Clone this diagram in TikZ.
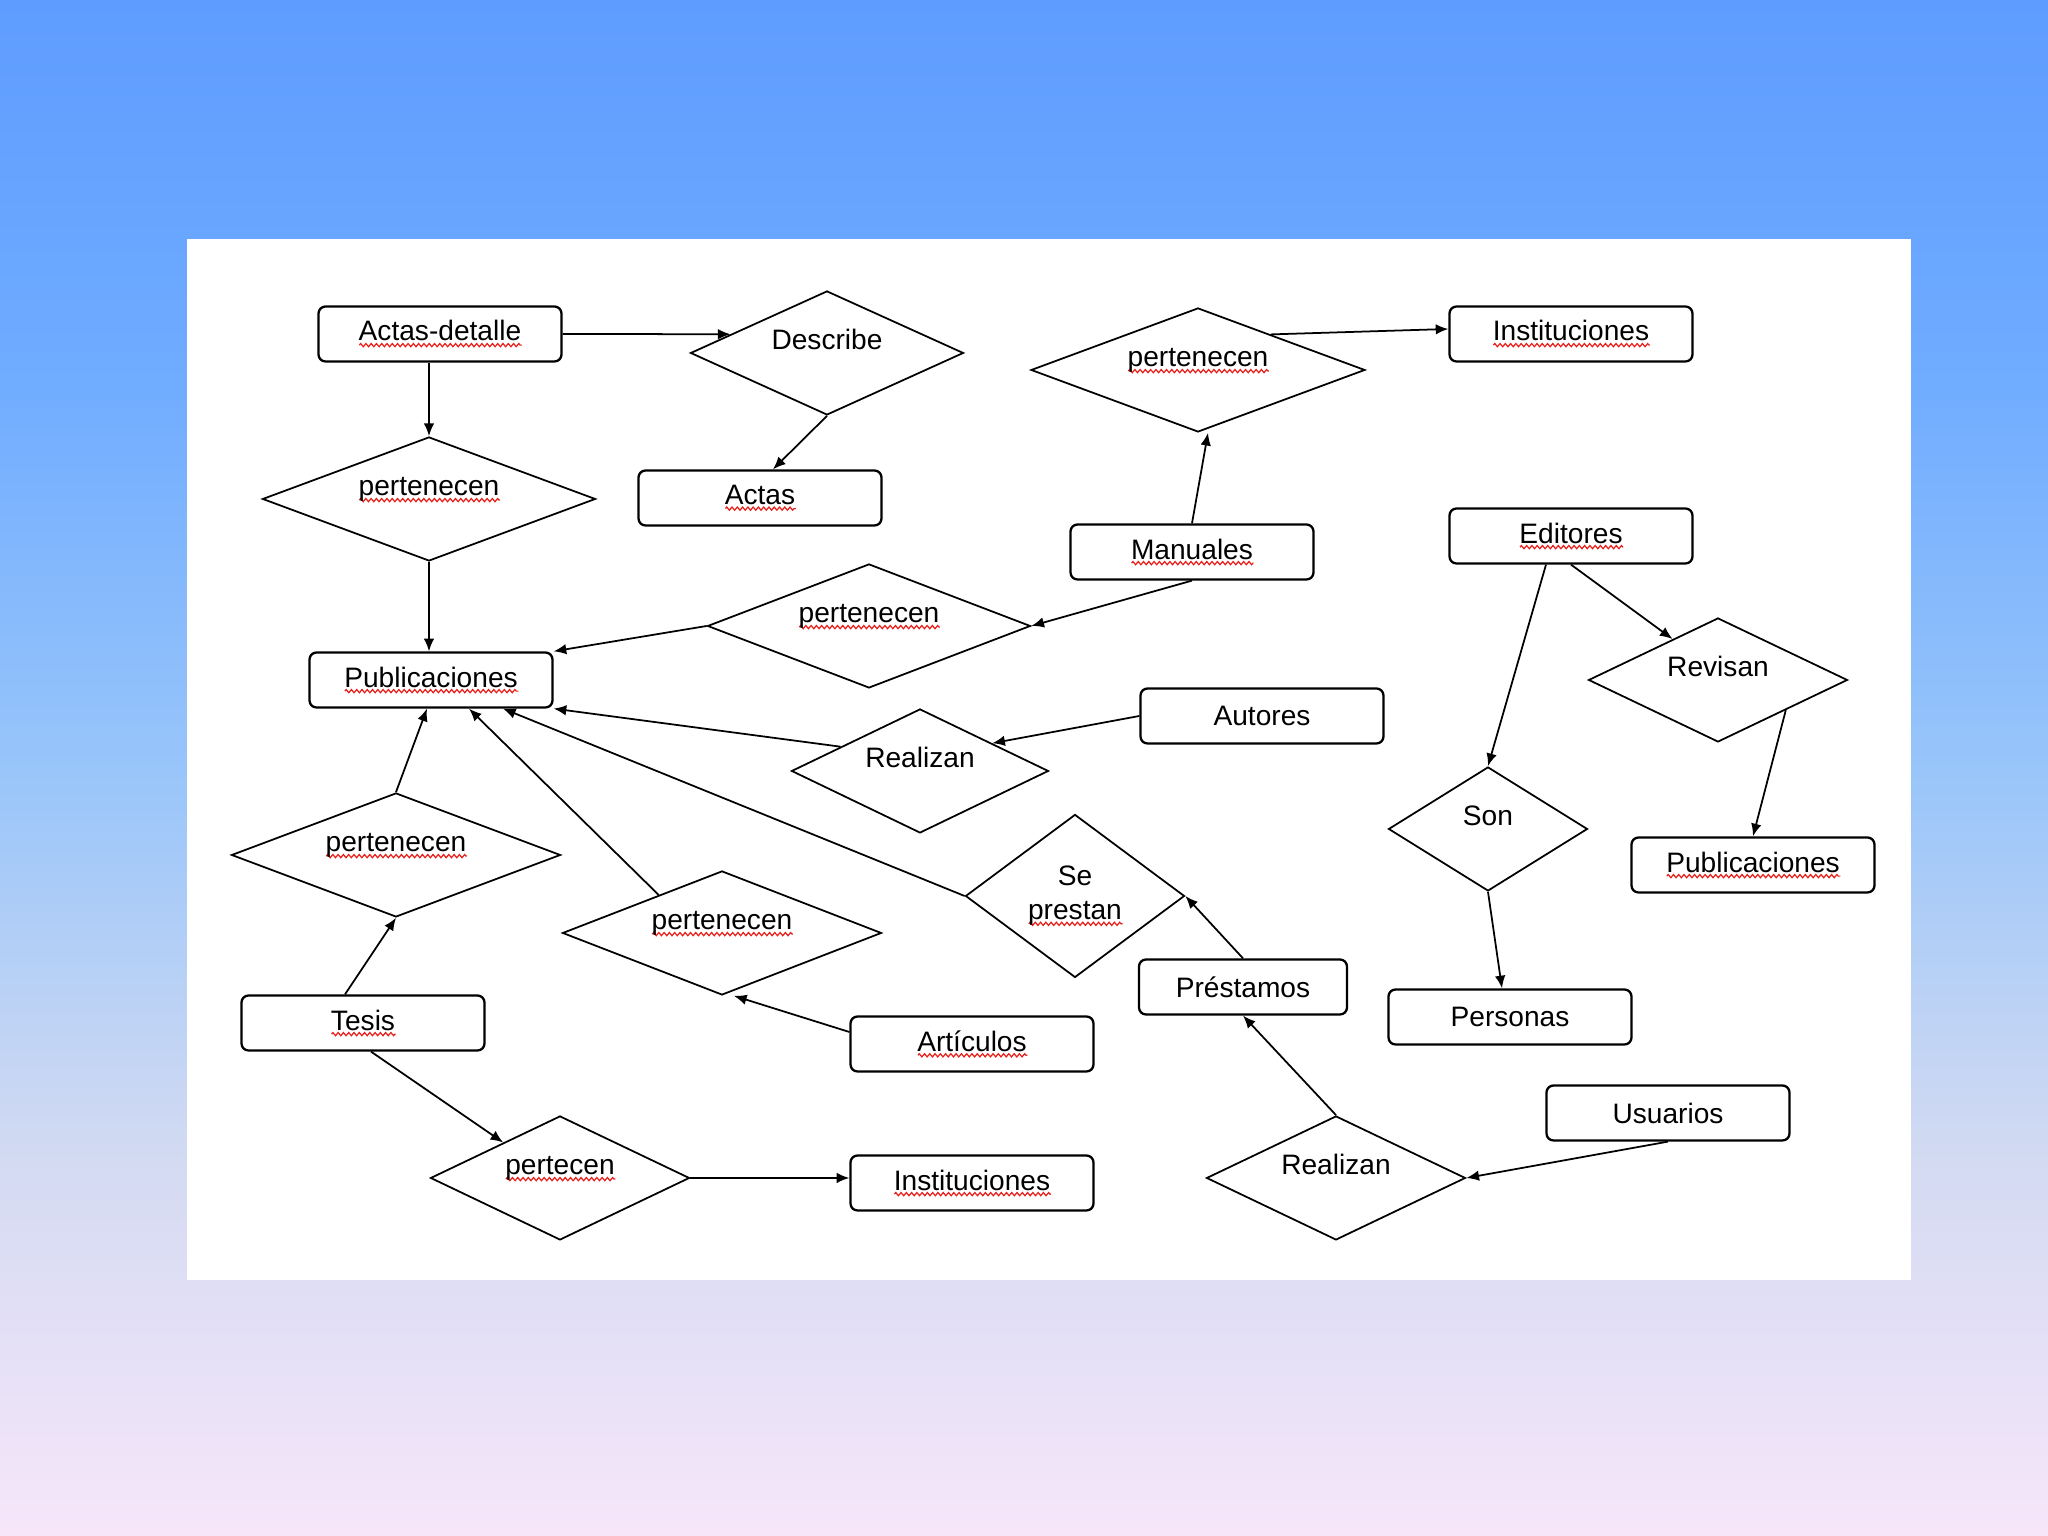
\documentclass[tikz,border=0pt]{standalone}
\usepackage{fontspec}
\setmainfont{Liberation Sans}
\usepackage{tikz}
\usetikzlibrary{arrows.meta,shapes.geometric,decorations.pathmorphing}
\definecolor{bgtop}{RGB}{94,156,255}
\definecolor{bghigh}{RGB}{112,172,255}
\definecolor{bgmid}{RGB}{152,197,250}
\definecolor{bglow}{RGB}{210,218,242}
\definecolor{bgbot}{RGB}{247,230,250}
\definecolor{spellred}{HTML}{E8201A}
\pgfdeclareverticalshading{bgfade}{100bp}{color(0bp)=(bgbot); color(25bp)=(bgbot); color(37.5bp)=(bglow); color(50bp)=(bgmid); color(62.5bp)=(bghigh); color(75bp)=(bgtop); color(100bp)=(bgtop)}
\newcommand{\diagfont}{\fontsize{8}{9.7}\selectfont}
\newsavebox{\spellbox}
% word with a red wavy mark under it
\newcommand{\spell}[1]{\sbox{\spellbox}{#1}%
  \rlap{\raisebox{-1.8pt}{\tikz\draw[spellred, fill=none, sharp corners, line width=0.35pt, decorate, decoration={zigzag, segment length=1.5pt, amplitude=0.45pt}] (0,0) -- (\wd\spellbox,0);}}%
  \usebox{\spellbox}}

\begin{document}
\begin{tikzpicture}[
    >={Latex[length=3.6pt,width=3pt]},
    ent/.style={draw, line width=0.65pt, rounded corners=2pt, fill=white, minimum width=2.43cm, minimum height=0.55cm, inner sep=1pt, font=\diagfont},
    rel/.style={draw, diamond, line width=0.5pt, inner sep=0pt, shape aspect=2, minimum height=1.24cm, font=\diagfont, text height=0.25cm, text depth=0.31cm},
    arrow/.style={->, line width=0.5pt},
]
% Background and sheet
\useasboundingbox (0,0) rectangle (20.48,15.36);
\shade[shading=bgfade] (0,0) rectangle (20.48,15.36);
\fill[white] (1.87,2.56) rectangle (19.11,12.97);

% Entities
\node[ent] (adet) at (4.40,12.02) {\spell{Actas-detalle}};
\node[ent] (actas) at (7.60,10.38) {\spell{Actas}};
\node[ent] (inst1) at (15.71,12.02) {\spell{Instituciones}};
\node[ent] (manu) at (11.92,9.84) {\spell{Manuales}};
\node[ent] (edit) at (15.71,10.00) {\spell{Editores}};
\node[ent] (pub1) at (4.31,8.56) {\spell{Publicaciones}};
\node[ent] (auto) at (12.62,8.20) {Autores};
\node[ent] (pub2) at (17.53,6.71) {\spell{Publicaciones}};
\node[ent] (tesis) at (3.63,5.13) {\spell{Tesis}};
\node[ent] (artic) at (9.72,4.92) {\spell{Artículos}};
\node[ent, minimum width=2.08cm] (prest) at (12.43,5.49) {Préstamos};
\node[ent] (pers) at (15.10,5.19) {Personas};
\node[ent] (usu) at (16.68,4.23) {Usuarios};
\node[ent] (inst2) at (9.72,3.53) {\spell{Instituciones}};

% Relations
\node[rel, minimum width=2.73cm] (desc) at (8.27,11.83) {Describe};
\node[rel, minimum width=3.34cm, shape aspect=2.6] (pert1) at (11.98,11.66) {\spell{pertenecen}};
\node[rel, minimum width=3.33cm, shape aspect=2.6] (pert2) at (4.29,10.37) {\spell{pertenecen}};
\node[rel, minimum width=3.23cm, shape aspect=2.6] (pert3) at (8.69,9.10) {\spell{pertenecen}};
\node[rel, minimum width=2.57cm] (real1) at (9.20,7.65) {Realizan};
\node[rel, minimum width=2.59cm] (rev) at (17.18,8.56) {Revisan};
\node[rel, minimum width=1.99cm] (son) at (14.88,7.07) {Son};
\node[rel, minimum width=3.29cm, shape aspect=2.6] (pert4) at (3.96,6.81) {\spell{pertenecen}};
\node[draw, diamond, line width=0.5pt, inner sep=0pt, shape aspect=1.34, minimum width=2.19cm, minimum height=1.63cm, align=center, font=\diagfont] (seprest) at (10.75,6.40) {Se\\\spell{prestan}};
\node[rel, minimum width=3.19cm, shape aspect=2.6] (pert5) at (7.22,6.03) {\spell{pertenecen}};
\node[rel, minimum width=2.59cm] (pertc) at (5.60,3.58) {\spell{pertecen}};
\node[rel, minimum width=2.59cm] (real2) at (13.36,3.58) {Realizan};

% Arrows
\draw[arrow] (adet.east) -- (desc.169);
\draw[arrow] (desc.south) -- ([xshift=1.3mm]actas.north);
\draw[arrow] (pert2.north |- adet.south) -- (pert2.north);
\draw[arrow] (pert2.south) -- (pert2.south |- pub1.north);
\draw[arrow] (pert1.26) -- ([yshift=0.5mm]inst1.west);
\draw[arrow] (manu.north) -- ([xshift=1mm]pert1.south);
\draw[arrow] (manu.south) -- (pert3.east);
\draw[arrow] (pert3.west) -- (pub1.north east);
\draw[arrow] (auto.west) -- (real1.21);
\draw[arrow] (real1.163) -- (pub1.south east);
\draw[arrow] (pert4.north) -- ([xshift=-0.4mm]pub1.south);
\draw[arrow] ([xshift=-1.8mm]tesis.north) -- (pert4.south);
\draw[arrow] (pert5.149) -- ([xshift=3.8mm]pub1.south);
\draw[arrow] ([yshift=1.2mm]artic.west) -- ([xshift=1.2mm]pert5.south);
\draw[arrow] (seprest.west) -- ([xshift=7.2mm]pub1.south);
\draw[arrow] (prest.north) -- (seprest.east);
\draw[arrow] (real2.north) -- (prest.south);
\draw[arrow] (usu.south) -- (real2.east);
\draw[arrow] ([xshift=0.8mm]tesis.south) -- (pertc.148);
\draw[arrow] (pertc.east) -- (pertc.east -| inst2.west);
\draw[arrow] ([xshift=-2.5mm]edit.south) -- (son.north);
\draw[arrow] (edit.south) -- (rev.138);
\draw[arrow] (rev.336) -- (pub2.north);
\draw[arrow] (son.south) -- ([xshift=-0.8mm]pers.north);
\end{tikzpicture}
\end{document}
